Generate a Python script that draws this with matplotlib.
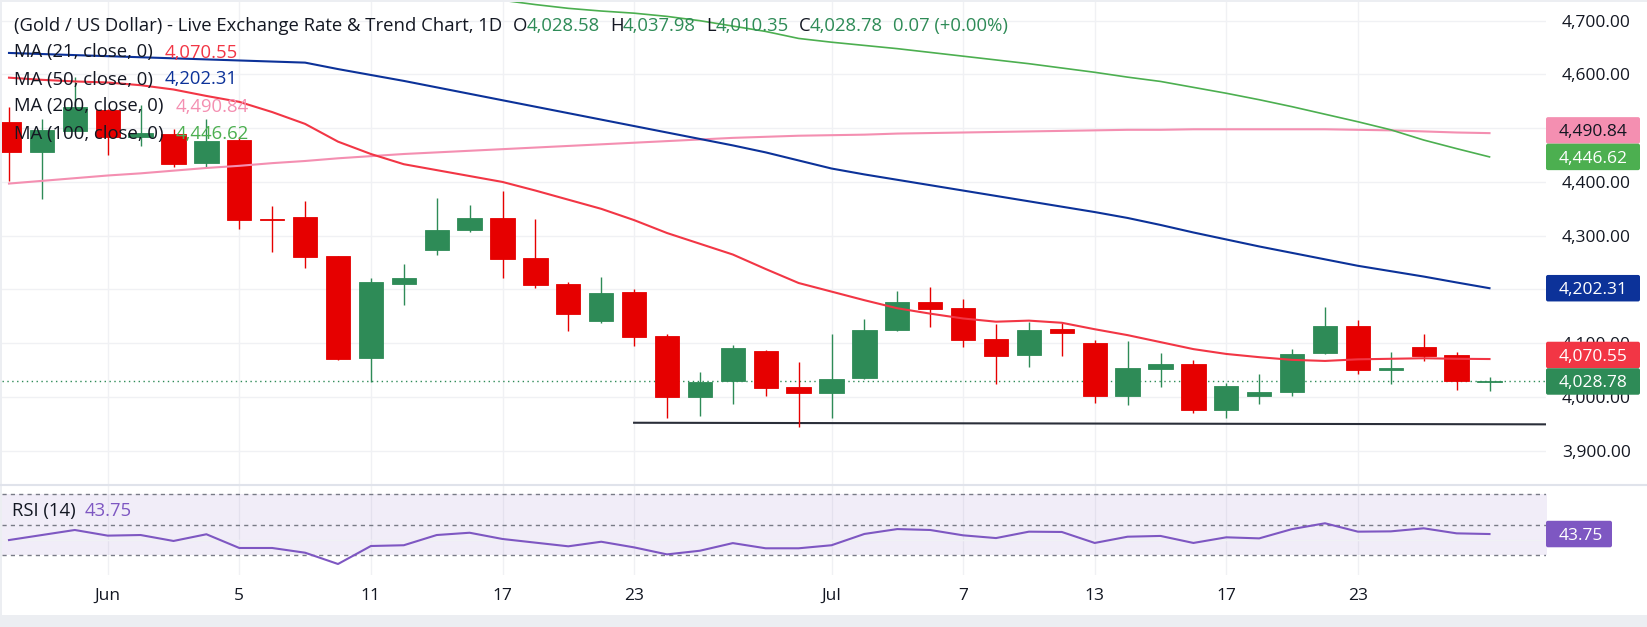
import numpy as np
import matplotlib
matplotlib.use("Agg")
import matplotlib.pyplot as plt
from matplotlib.patches import Rectangle, FancyBboxPatch
from matplotlib.transforms import IdentityTransform
from matplotlib.lines import Line2D

plt.rcParams['font.family'] = ['Open Sans', 'DejaVu Sans']

W, H = 1647, 627

# daily candles (0 = cut candle at the left edge)
opens = [4511, 4456, 4495, 4534, 4484, 4490, 4435, 4478, 4331, 4335,
         4262, 4073, 4211, 4274, 4311, 4333, 4258, 4210, 4142, 4195,
         4113, 3999, 4030, 4085, 4018, 4008, 4035, 4125, 4177, 4165,
         4108, 4078, 4126, 4100, 4002, 4052, 4061, 3976, 4002, 4010,
         4082, 4132, 4051, 4093, 4078, 4028.58]
highs = [4539, 4517, 4596, 4535, 4543, 4498, 4517, 4483, 4355, 4365,
         4263, 4221, 4247, 4370, 4357, 4383, 4331, 4214, 4223, 4200,
         4117, 4046, 4097, 4087, 4065, 4117, 4145, 4197, 4205, 4182,
         4136, 4140, 4138, 4106, 4104, 4082, 4069, 4026, 4043, 4089,
         4167, 4143, 4084, 4117, 4084, 4037.98]
lows = [4402, 4369, 4494, 4450, 4466, 4428, 4427, 4313, 4270, 4239,
        4069, 4027, 4172, 4265, 4307, 4222, 4203, 4123, 4138, 4094,
        3961, 3965, 3986, 4002, 3945, 3961, 4033, 4123, 4130, 4093,
        4024, 4056, 4076, 3989, 3985, 4018, 3971, 3961, 3986, 4002,
        4079, 4043, 4024, 4067, 4013, 4010.35]
closes = [4456, 4497, 4539, 4484, 4492, 4434, 4476, 4330, 4330, 4261,
          4071, 4214, 4221, 4311, 4333, 4257, 4208, 4155, 4193, 4112,
          4000, 4028, 4091, 4017, 4008, 4033, 4124, 4177, 4164, 4106,
          4076, 4124, 4119, 4002, 4054, 4061, 3976, 4020, 4009, 4080,
          4132, 4051, 4053, 4076, 4029, 4028.78]

ma21 = [4594, 4590, 4587, 4585, 4580, 4572, 4560, 4549, 4530, 4508,
        4475, 4452, 4433, 4422, 4411, 4400, 4384, 4367, 4350, 4329,
        4305, 4285, 4265, 4238, 4212, 4196, 4180, 4165, 4155, 4146,
        4140, 4142, 4138, 4126, 4115, 4102, 4089, 4080, 4074, 4069,
        4067, 4070, 4071, 4072, 4071, 4070.55]
ma50 = [4640, 4638, 4636, 4634, 4632, 4630, 4628, 4626, 4624, 4622,
        4610, 4599, 4588, 4576, 4564, 4552, 4540, 4528, 4516, 4504,
        4492, 4480, 4468, 4455, 4440, 4425, 4414, 4404, 4394, 4384,
        4374, 4364, 4354, 4344, 4333, 4320, 4306, 4293, 4280, 4268,
        4256, 4244, 4234, 4224, 4213, 4202.31]
ma100 = [np.nan] * 14 + [
        4750, 4738, 4730, 4723, 4718, 4714,
        4708, 4700, 4690, 4680, 4667, 4660, 4654, 4648, 4641, 4634,
        4627, 4620, 4612, 4604, 4595, 4587, 4576, 4565, 4553, 4540,
        4526, 4512, 4497, 4478, 4462, 4446.62]
ma200 = [4397, 4402, 4407, 4412, 4416, 4421, 4426, 4430, 4435, 4439,
         4444, 4448, 4452, 4455, 4458, 4461, 4464, 4467, 4470, 4473,
         4476, 4479, 4482, 4484, 4486, 4487, 4488, 4490, 4491, 4492,
         4493, 4494, 4495, 4496, 4497, 4497, 4498, 4498, 4498, 4498,
         4498, 4497, 4496, 4494, 4492, 4490.84]
rsi = [39.8, 43.1, 46.4, 42.7, 43.1, 39.2, 43.6, 34.6, 34.6, 31.5,
       24.1, 35.9, 36.4, 43.1, 44.6, 40.5, 38.1, 35.7, 38.7, 35.0,
       30.4, 32.8, 37.8, 34.4, 34.4, 36.4, 43.8, 47.0, 46.4, 42.9,
       41.1, 45.3, 45.1, 37.9, 42.0, 42.5, 37.9, 41.6, 40.9, 47.0,
       50.8, 45.3, 45.5, 47.5, 44.2, 43.75]

tick_idx = [3, 7, 11, 15, 19, 25, 29, 33, 37, 41]
tick_lbl = ['Jun', '5', '11', '17', '23', 'Jul', '7', '13', '17', '23']
price_ticks = [3900, 4000, 4100, 4200, 4300, 4400, 4500, 4600, 4700]

support_x = [19, 47]
support_y = [3952, 3949]

ma_names = ['MA (21, close, 0)', 'MA (50, close, 0)', 'MA (200, close, 0)', 'MA (100, close, 0)']
ma_last = [4070.55, 4202.31, 4490.84, 4446.62]
title = '(Gold / US Dollar) - Live Exchange Rate & Trend Chart, 1D'
change_txt = '0.07 (+0.00%)'

UP, DOWN = '#2e8b57', '#e60000'
C21, C50, C100, C200 = '#f23645', '#0c3299', '#4caf50', '#f48fb1'
PURPLE = '#7e57c2'
TXT = '#131722'
GRID = '#f0f1f4'
FS = 12.5      # scale labels
FL = 13.3      # legend lines


def fx(px):
    return px / W


def fy(py):
    return 1 - py / H


fig = plt.figure(figsize=(W / 100, H / 100), dpi=100, facecolor='#eceef2')
fig.patches.append(Rectangle((2, 12), W - 2, H - 14, transform=IdentityTransform(),
                             facecolor='white', edgecolor='none', zorder=-10))

ax = fig.add_axes([fx(2), fy(484), fx(1546) - fx(2), fy(2) - fy(484)])
ax2 = fig.add_axes([fx(2), fy(575), fx(1546) - fx(2), fy(486) - fy(575)], sharex=ax)


def price_at(py):
    return 4700 - (py - 20.7) / 0.5375


ax.set_ylim(price_at(484), price_at(2))
ax.set_xlim((2 - 9) / 32.9, (1546 - 9) / 32.9)

for a in (ax, ax2):
    for s in a.spines.values():
        s.set_visible(False)
    a.set_facecolor('white')
    a.tick_params(length=0)
    for t in tick_idx:
        a.axvline(t, color=GRID, lw=1, zorder=0)

ax.yaxis.tick_right()
ax.set_yticks(price_ticks)
ax.set_yticklabels([f'{p:,.2f}' for p in price_ticks])
ax.tick_params(axis='y', pad=11.5, labelsize=FS, labelcolor=TXT)
ax.tick_params(axis='x', labelbottom=False)
for p in price_ticks:
    ax.axhline(p, color=GRID, lw=1, zorder=0)

# candles
x = np.arange(len(opens))
for i in x:
    o, h, l, c = opens[i], highs[i], lows[i], closes[i]
    col = UP if c >= o else DOWN
    ax.vlines(i, l, h, color=col, lw=1.0, zorder=3)
    ax.bar(i, abs(c - o), bottom=min(o, c), width=0.74, color=col,
           edgecolor=col, linewidth=0.6, zorder=3)

ax.axhline(closes[-1], color=UP, lw=1, ls=(0, (1, 2.5)), zorder=2)
ax.plot(support_x, support_y, color='#2a2e39', lw=1.5, zorder=2)

ax.plot(x, ma200, color=C200, lw=1.5, zorder=4)
ax.plot(x, ma100, color=C100, lw=1.2, zorder=4)
ax.plot(x, ma50, color=C50, lw=1.5, zorder=4)
ax.plot(x, ma21, color=C21, lw=1.5, zorder=4)

# RSI pane
ax2.set_ylim(50 - 50.5 / 1.525, 50 + 38.5 / 1.525)
ax2.fill_between([-1, 48], 30, 70, color=PURPLE, alpha=0.1, lw=0, zorder=0)
for lvl in (70, 50, 30):
    ax2.axhline(lvl, color='#787b86', lw=1, ls=(0, (3, 3)), zorder=1)
ax2.axhline(40, color=GRID, lw=1, zorder=0)
ax2.plot(x, rsi, color=PURPLE, lw=1.5, zorder=3)
ax2.set_yticks([])
ax2.set_xticks(tick_idx)
ax2.set_xticklabels(tick_lbl)
ax2.tick_params(axis='x', pad=9, labelsize=FS, labelcolor=TXT)

# pane separator
fig.add_artist(Line2D([0, 1], [fy(484.5), fy(484.5)], color='#e0e3eb', lw=1.5))


# legend text, pieces placed one after another
def chain(host, pieces, x0, y0):
    prev = fig.text(fx(x0), fy(y0), pieces[0][0], color=pieces[0][1], fontsize=FL,
                    va='center', ha='left', zorder=10)
    for s, col, gap in pieces[1:]:
        prev = host.annotate(s, xy=(1, 0), xycoords=prev, xytext=(gap, 0),
                             textcoords='offset points', color=col, fontsize=FL,
                             va='bottom', ha='left', zorder=10, annotation_clip=False)


chain(ax, [(title, TXT, 0),
           ('O', TXT, 7.5), (f'{opens[-1]:,.2f}', UP, -0.5),
           ('H', TXT, 7.5), (f'{highs[-1]:,.2f}', UP, -0.5),
           ('L', TXT, 7.5), (f'{lows[-1]:,.2f}', UP, -0.5),
           ('C', TXT, 7.5), (f'{closes[-1]:,.2f}', UP, -0.5),
           (change_txt, UP, 7)], 14, 26)
for k, (nm, val, col) in enumerate(zip(ma_names, ma_last, [C21, C50, C200, C100])):
    chain(ax, [(nm, TXT, 0), (f'{val:,.2f}', col, 8.5)], 14, 52.5 + 27 * k)

chain(ax2, [('RSI (14)', TXT, 0), (f'{rsi[-1]:.2f}', PURPLE, 6)], 12.5, 511)

# price labels on the right scale
box_h = 26.5
labels = [(ma_last[2], C200, TXT), (ma_last[3], C100, 'white'),
          (ma_last[1], C50, 'white'), (ma_last[0], C21, 'white'),
          (closes[-1], UP, 'white')]
ys = [ax.transData.transform((0, v))[1] for v, _, _ in labels]
order = np.argsort(ys)
for a_, b_ in zip(order[:-1], order[1:]):
    if ys[b_] < ys[a_] + box_h:
        ys[b_] = ys[a_] + box_h


def tag(y, text, fc, tc, width):
    fig.patches.append(FancyBboxPatch((1546, y - box_h / 2), width, box_h,
                                      boxstyle='round,pad=0,rounding_size=2',
                                      transform=IdentityTransform(), fc=fc, ec='none', zorder=20))
    fig.text(fx(1559), y / H, text, color=tc, fontsize=FS, va='center_baseline',
             ha='left', zorder=21)


for (v, fc, tc), y in zip(labels, ys):
    tag(y, f'{v:,.2f}', fc, tc, 94)
tag(ax2.transData.transform((0, rsi[-1]))[1], f'{rsi[-1]:.2f}', PURPLE, 'white', 66)

fig.savefig('out.png', dpi=100, facecolor=fig.get_facecolor())
